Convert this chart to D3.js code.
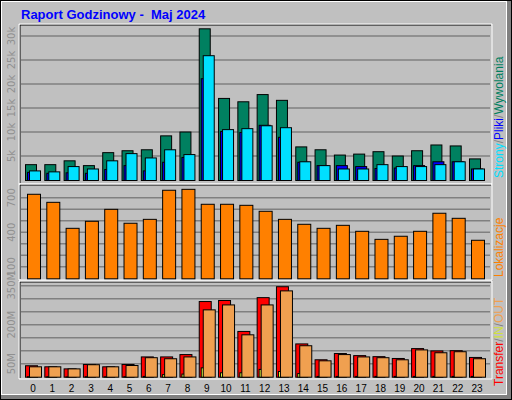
<!DOCTYPE html>
<html>
<head>
<meta charset="utf-8">
<script src="https://cdn.jsdelivr.net/npm/d3@7"></script>
<style>body{margin:0;background:#fff}svg{display:block;font-family:"DejaVu Sans",sans-serif}</style>
</head>
<body>
<div id="chart"></div>
<script>
const hours = d3.range(24);
// top panel: Wywolania (hits), Pliki (files), Strony (pages)
const hits  = [3300,3300,4100,3100,5800,6200,6400,9300,10100,31600,17100,16400,17900,16700,7000,6400,5300,5500,6000,5100,6200,7400,7200,4500];
const files = [1700,1500,1600,1500,2300,3100,2000,3800,4800,21200,10200,10000,11500,9000,3800,3100,3100,2900,2500,2600,3100,3900,3900,2400];
const pages = [2000,1800,2900,2400,4100,5600,4700,6400,5400,26000,10600,10800,11400,11000,3900,3100,2400,2400,3300,2900,2900,3300,3900,2400];
// middle panel: Lokalizacje (sites)
const sites = [735,665,439,500,604,483,517,770,778,648,648,639,587,517,474,439,465,413,343,370,413,570,526,335];
// bottom panel: Transfer / IN / OUT in MB
const kbytes = [44,40,32,49,40,49,78,78,87,291,295,176,306,348,128,67,91,83,79,72,110,101,102,76];
const kin    = [2,2,1,2,2,2,3,10,12,36,17,17,30,22,14,3,3,3,3,3,3,3,3,3];
const kout   = [40,40,32,48,40,45,75,71,78,259,278,163,278,332,121,63,87,78,75,67,105,94,98,71];
const topTicks = [5000,10000,15000,20000,25000,30000];
const topLabels = ['5k','10k','15k','20k','25k','30k'];
const midTicks = [100,400,700];
const botTicks = [50,200,350];

const W = 512, H = 400;
const svg = d3.select('#chart').append('svg').attr('width', W).attr('height', H);

// outer frame
svg.append('rect').attr('x',0).attr('y',0).attr('width',W).attr('height',H).attr('fill','#000');
svg.append('rect').attr('x',1).attr('y',1).attr('width',W-2).attr('height',H-2).attr('fill','#808080');
svg.append('rect').attr('x',1).attr('y',1).attr('width',W-6).attr('height',H-6).attr('fill','#fff');
svg.append('rect').attr('x',2).attr('y',2).attr('width',W-8).attr('height',H-8).attr('fill','#c0c0c0');

svg.append('text').attr('x',21).attr('y',19).attr('fill','#0000ff')
  .style('font-family','"Liberation Sans",Arial,sans-serif').style('font-weight','bold').style('font-size','13px')
  .attr('xml:space','preserve').text('Raport Godzinowy -  Maj 2024');

const x = d3.scaleLinear().domain([0,23]).range([25,469]);
const left = 20, right = 491;

function panel(y0, y1) {
  svg.append('rect').attr('x',left).attr('y',y0).attr('width',right-left).attr('height',y1-y0)
    .attr('fill','#c0c0c0').attr('stroke','none');
  svg.append('path').attr('d',`M${left},${y1}V${y0}H${right}`).attr('stroke','#000').attr('fill','none');
  svg.append('path').attr('d',`M${left-1},${y1+1}V${y0-1}H${right+1}V${y1+1}H${left-1}`).attr('stroke','#fff').attr('fill','none');
}
function grid(y, vals) {
  svg.append('g').selectAll('line').data(vals).join('line')
    .attr('x1',left+1).attr('x2',right-1).attr('y1',d=>y(d)).attr('y2',d=>y(d))
    .attr('stroke','#808080').attr('stroke-width',1.5);
}
function leftLabels(y, vals, fmt) {
  svg.append('g').selectAll('text').data(vals).join('text')
    .attr('transform',d=>`translate(15,${y(d)}) rotate(-90)`).attr('text-anchor','middle')
    .attr('fill','#909090').style('font-size','10px').text(fmt);
}
function bars(y, vals, dx, w, color) {
  svg.append('g').selectAll('rect').data(vals).join('rect')
    .attr('x',(d,i)=>x(i)+dx+0.5).attr('width',w).attr('y',d=>y(d)+0.5).attr('height',d=>y(0)-y(d))
    .attr('fill',color).attr('stroke','#000').attr('stroke-width',1);
}
function rightLabel(yStart, parts) {
  const t = svg.append('text').attr('transform',`translate(503,${yStart}) rotate(-90)`)
    .style('font-family','"Liberation Sans",Arial,sans-serif').style('font-size','12px');
  parts.forEach(p => t.append('tspan').attr('fill',p[1]).text(p[0]));
}

// top panel
panel(25, 183);
const yTop = d3.scaleLinear().domain([0,5000]).range([180,156]);
grid(yTop, topTicks);
leftLabels(yTop, topTicks, (d,i)=>topLabels[i]);
bars(yTop, hits, 0, 11, '#008060');
bars(yTop, files, 2, 11, '#0000ff');
bars(yTop, pages, 4, 11, '#00e0ff');
rightLabel(178, [['Strony','#00e0ff'],['/','#808080'],['Pliki','#0000ff'],['/','#808080'],['Wywolania','#008060']]);

// middle panel
panel(185, 279);
const yMid = d3.scaleLinear().domain([0,100]).range([278.3,266.8]);
grid(yMid, d3.range(100,800,100));
leftLabels(yMid, midTicks, d=>d);
bars(yMid, sites, 2, 13, '#ff8000');
rightLabel(277, [['Lokalizacje','#ff8000']]);

// bottom panel
panel(282, 378);
const yBot = d3.scaleLinear().domain([0,50]).range([376.7,363.7]);
grid(yBot, d3.range(50,400,50));
leftLabels(yBot, botTicks, d=>d+'M');
bars(yBot, kbytes, 0, 12, '#ff0000');
bars(yBot, kin, 2, 3, '#e0ff40');
bars(yBot, kout, 4, 12, '#f0a050');
rightLabel(386, [['Transfer','#ff0000'],['/','#808080'],['IN','#d0e040'],['/','#808080'],['OUT','#f0a050']]);

// hour labels
svg.append('g').selectAll('text').data(hours).join('text')
  .attr('x',d=>x(d)+8).attr('y',392).attr('text-anchor','middle')
  .style('font-family','"Liberation Sans",Arial,sans-serif').style('font-size','10px').attr('fill','#000').text(d=>d);
</script>
</body>
</html>
